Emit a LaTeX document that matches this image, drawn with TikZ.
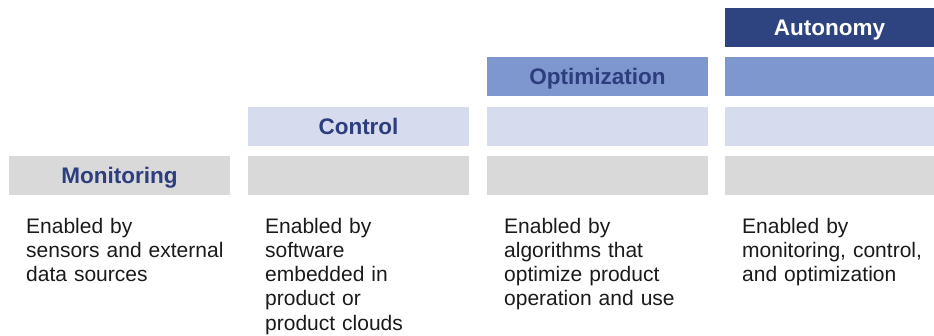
\documentclass[tikz,border=0pt]{standalone}
\usepackage{fontspec}
\setmainfont{Liberation Sans}
\definecolor{bargray}{HTML}{D9D9D9}
\definecolor{barlight}{HTML}{D6DCEE}
\definecolor{barmid}{HTML}{7F97CF}
\definecolor{bardark}{HTML}{2E4480}
\definecolor{titlenavy}{HTML}{2D3E7E}
\definecolor{bodytext}{HTML}{1A1A1A}
\begin{document}
\begin{tikzpicture}[x=1pt,y=-1pt,
  bar/.style={anchor=north west, minimum width=221pt, minimum height=38.5pt,
    inner sep=0pt, outer sep=0pt, draw=none},
  lastbar/.style={bar, minimum width=209pt},
  title/.style={font=\fontsize{22.5}{26}\selectfont\bfseries, text=titlenavy,
    text height=16.1pt, text depth=0pt},
  body/.style={anchor=base west, align=left, text width=205pt, inner sep=0pt,
    font=\fontsize{21}{24.3}\selectfont, text=bodytext}]
\useasboundingbox (0,0) rectangle (934,335);

% level 1: monitoring
\node[bar, fill=bargray, title] (mon) at (9,156) {Monitoring};
\node[bar, fill=bargray] (g2) at (248,156) {};
\node[bar, fill=bargray] (g3) at (487,156) {};
\node[lastbar, fill=bargray] (g4) at (725,156) {};

% level 2: control
\node[bar, fill=barlight, title] (ctl) at (248,107) {Control};
\node[bar, fill=barlight] (l3) at (487,107) {};
\node[lastbar, fill=barlight] (l4) at (725,107) {};

% level 3: optimization
\node[bar, fill=barmid, title] (opt) at (487,57) {Optimization};
\node[lastbar, fill=barmid] (m4) at (725,57) {};

% level 4: autonomy
\node[lastbar, fill=bardark, title, text=white] (aut) at (725,8) {Autonomy};

% descriptions
\node[body] (t1) at (26,233) {Enabled by\\sensors and external\\data sources};
\node[body] (t2) at (265,233) {Enabled by\\software\\embedded in\\product or\\product clouds};
\node[body] (t3) at (504,233) {Enabled by\\algorithms that\\optimize product\\operation and use};
\node[body] (t4) at (742,233) {Enabled by\\monitoring, control,\\and optimization};
\end{tikzpicture}
\end{document}
